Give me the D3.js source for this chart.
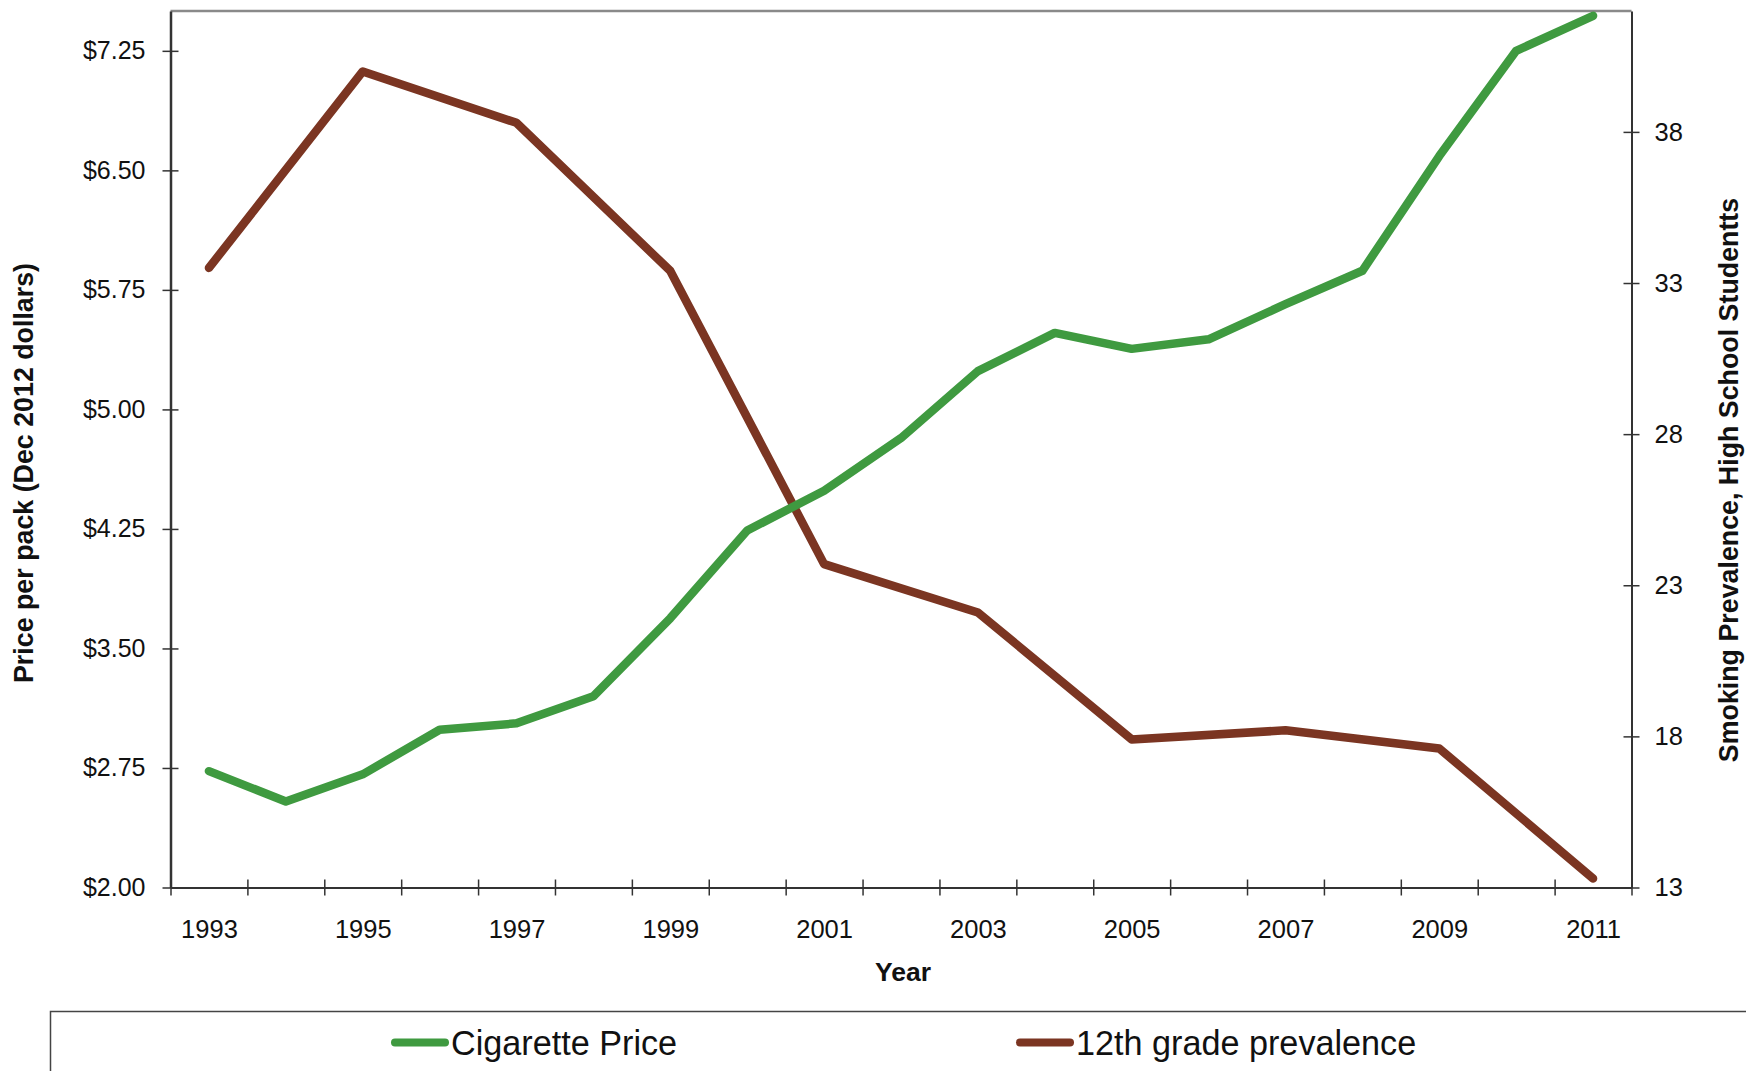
<!DOCTYPE html>
<html>
<head>
<meta charset="utf-8">
<script src="https://cdn.jsdelivr.net/npm/d3@7"></script>
<style>
  html, body { margin: 0; padding: 0; background: #fff; }
  svg { display: block; font-family: "Liberation Sans", Arial, sans-serif; }
</style>
</head>
<body>
<svg id="chart" width="1746" height="1071"></svg>
<script>
// Years on the category axis
const years = [1993, 1994, 1995, 1996, 1997, 1998, 1999, 2000, 2001, 2002,
               2003, 2004, 2005, 2006, 2007, 2008, 2009, 2010, 2011];

// Cigarette price per pack, Dec 2012 dollars
const cigarettePrice = [2.73, 2.54, 2.71, 2.99, 3.03, 3.20, 3.69, 4.24, 4.49, 4.82,
                        5.24, 5.48, 5.38, 5.44, 5.66, 5.87, 6.59, 7.25, 7.47];

// 12th grade smoking prevalence (%), surveyed every other year
const prevalence = [33.5, null, 40.0, null, 38.3, null, 33.4, null, 23.7, null,
                    22.1, null, 17.9, null, 18.2, null, 17.6, null, 13.3];

// Axis tick labels
const priceTicks = [2.00, 2.75, 3.50, 4.25, 5.00, 5.75, 6.50, 7.25];
const prevalenceTicks = [13, 18, 23, 28, 33, 38];
const yearLabels = [1993, 1995, 1997, 1999, 2001, 2003, 2005, 2007, 2009, 2011];

const seriesNames = ["Cigarette Price", "12th grade prevalence"];
const colors = { price: "#3f9a40", prev: "#7b3522" };

const svg = d3.select("#chart");
const plot = { left: 170.5, right: 1631.5, top: 11, bottom: 887.5 };

const x = d3.scaleLinear()
  .domain([years[0] - 0.5, years[years.length - 1] + 0.5])
  .range([plot.left, plot.right]);
const yL = d3.scaleLinear().domain([2, 7.5]).range([plot.bottom, plot.top]);
const yR = d3.scaleLinear().domain([13, 42]).range([plot.bottom, plot.top]);

const fontSize = 25;
const titleSize = 26.5;
const axisColor = "#333";

// top frame line
svg.append("line")
  .attr("x1", plot.left).attr("x2", plot.right)
  .attr("y1", plot.top).attr("y2", plot.top)
  .attr("stroke", "#8a8a8a").attr("stroke-width", 2.5);

// bottom axis: tick marks at category boundaries
const boundaries = d3.range(years.length + 1).map(i => years[0] - 0.5 + i);
const gxTicks = svg.append("g")
  .attr("transform", `translate(0,${plot.bottom})`)
  .call(d3.axisBottom(x).tickValues(boundaries).tickFormat("").tickSizeOuter(0));
gxTicks.select(".domain").attr("stroke", axisColor).attr("stroke-width", 2);
gxTicks.selectAll(".tick line").attr("y1", -8).attr("y2", 8)
  .attr("stroke", axisColor).attr("stroke-width", 1.5);

// bottom axis: year labels at category centres
const gxLabels = svg.append("g")
  .attr("transform", `translate(0,${plot.bottom})`)
  .call(d3.axisBottom(x).tickValues(yearLabels).tickFormat(d3.format("d")).tickSize(0).tickPadding(32));
gxLabels.select(".domain").remove();
gxLabels.selectAll("text").attr("font-size", 25.5).attr("fill", "#111")
  .attr("font-family", "Liberation Sans, Arial, sans-serif");

// left axis
const gl = svg.append("g")
  .attr("transform", `translate(${plot.left},0)`)
  .call(d3.axisLeft(yL).tickValues(priceTicks).tickFormat(d => "$" + d.toFixed(2))
    .tickSizeOuter(0).tickSizeInner(8).tickPadding(17));
gl.select(".domain").attr("stroke", axisColor).attr("stroke-width", 2.5);
gl.selectAll(".tick line").attr("x1", -8).attr("x2", 8)
  .attr("stroke", axisColor).attr("stroke-width", 1.5);
gl.selectAll("text").attr("font-size", fontSize).attr("fill", "#111")
  .attr("font-family", "Liberation Sans, Arial, sans-serif");

// right axis
const gr = svg.append("g")
  .attr("transform", `translate(${plot.right},0)`)
  .call(d3.axisRight(yR).tickValues(prevalenceTicks).tickFormat(d3.format("d"))
    .tickSizeOuter(0).tickSizeInner(8).tickPadding(15));
gr.select(".domain").attr("stroke", axisColor).attr("stroke-width", 2);
gr.selectAll(".tick line").attr("x1", -8).attr("x2", 8)
  .attr("stroke", axisColor).attr("stroke-width", 1.5);
gr.selectAll("text").attr("font-size", 25.5).attr("fill", "#111")
  .attr("font-family", "Liberation Sans, Arial, sans-serif");

// axis titles
svg.append("text")
  .attr("x", (plot.left + plot.right) / 2 + 2).attr("y", 981)
  .attr("text-anchor", "middle").attr("font-size", titleSize).attr("font-weight", "bold")
  .attr("fill", "#111").text("Year");

svg.append("text")
  .attr("transform", "translate(33,473) rotate(-90)")
  .attr("text-anchor", "middle").attr("font-size", titleSize + 0.3).attr("font-weight", "bold")
  .attr("fill", "#111").text("Price per pack (Dec 2012 dollars)");

svg.append("text")
  .attr("transform", "translate(1738,480) rotate(-90)")
  .attr("text-anchor", "middle").attr("font-size", titleSize + 0.3).attr("font-weight", "bold")
  .attr("fill", "#111").text("Smoking Prevalence, High School Studentts");

// series lines
const data = years.map((yr, i) => ({ year: yr, price: cigarettePrice[i], prev: prevalence[i] }));

const priceLine = d3.line().x(d => x(d.year)).y(d => yL(d.price));
const prevData = data.filter(d => d.prev != null);
const prevLine = d3.line().x(d => x(d.year)).y(d => yR(d.prev));

svg.append("path").datum(prevData)
  .attr("d", prevLine).attr("fill", "none")
  .attr("stroke", colors.prev).attr("stroke-width", 8.5)
  .attr("stroke-linejoin", "round").attr("stroke-linecap", "round");

svg.append("path").datum(data)
  .attr("d", priceLine).attr("fill", "none")
  .attr("stroke", colors.price).attr("stroke-width", 8.5)
  .attr("stroke-linejoin", "round").attr("stroke-linecap", "round");

// legend box
svg.append("rect")
  .attr("x", 50.5).attr("y", 1011.5).attr("width", 1760).attr("height", 200)
  .attr("fill", "none").attr("stroke", "#444").attr("stroke-width", 1.5);

const legendItems = [
  { name: seriesNames[0], color: colors.price, x: 391 },
  { name: seriesNames[1], color: colors.prev, x: 1016 }
];
const lg = svg.selectAll(".legend-item").data(legendItems).join("g")
  .attr("class", "legend-item")
  .attr("transform", d => `translate(${d.x},1042.5)`);
lg.append("line")
  .attr("x1", 4).attr("x2", 54).attr("y1", 0).attr("y2", 0)
  .attr("stroke", d => d.color).attr("stroke-width", 8).attr("stroke-linecap", "round");
lg.append("text")
  .attr("x", 60).attr("y", 12).attr("font-size", 34.2).attr("fill", "#111")
  .text(d => d.name);
</script>
</body>
</html>
